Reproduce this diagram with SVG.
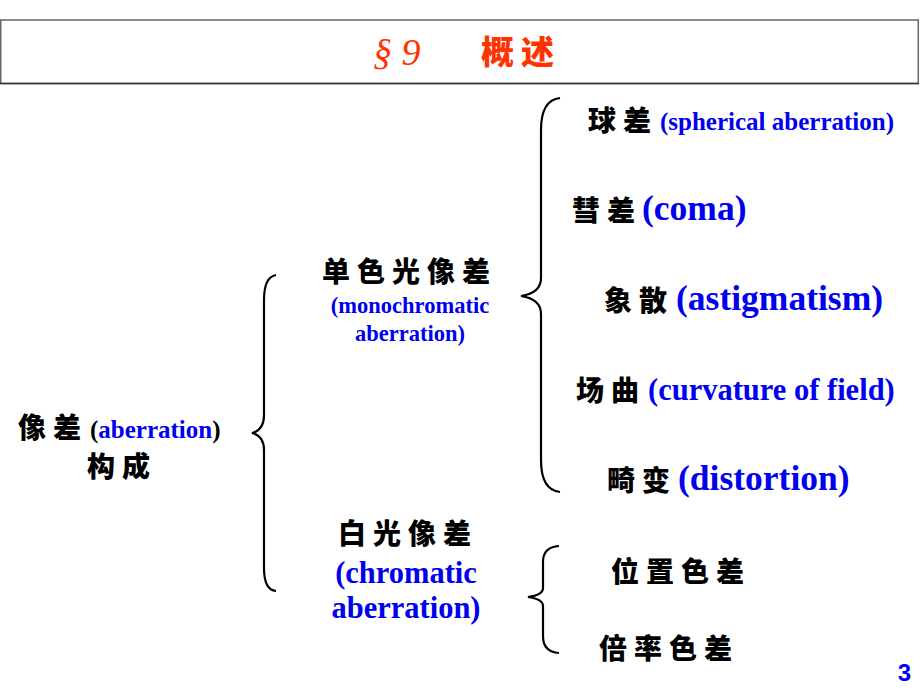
<svg xmlns="http://www.w3.org/2000/svg" width="920" height="690" viewBox="0 0 920 690">
<style>
.cn{font-family:"Noto Sans CJK SC","Noto Sans CJK JP",sans-serif;font-weight:900;fill:#000;font-size:28px;letter-spacing:7px}
.en{font-family:"Liberation Serif",serif;font-weight:bold;fill:#0000EE}
.br{fill:none;stroke:#000;stroke-width:2.2}
</style>
<rect width="920" height="690" fill="#fff"/>
<g id="title">
<rect x="0.75" y="20" width="917.5" height="63.5" fill="#fff" stroke="#666" stroke-width="1.5"/>
<line x1="0" y1="83.5" x2="919" y2="83.5" stroke="#333" stroke-width="1.5"/>
<text x="373" y="65" font-family="Liberation Serif,serif" font-style="italic" font-size="38" fill="#FF3300">§ 9</text>
<text x="481" y="64" font-family="Noto Sans CJK SC,sans-serif" font-weight="900" font-size="33" letter-spacing="7" fill="#FF3300">概述</text>
</g>
<g id="connectors">
<path class="br" d="M276,275 Q264,277 264,300 L264,415 Q264,430 252,433 Q264,436 264,450 L264,568 Q264,590 276,591"/>
<path class="br" d="M560,98 Q541,100 541,130 L541,278 Q541,293 521,296 Q541,299 541,314 L541,460 Q541,490 560,492"/>
<path class="br" d="M559,546 Q543,547 543,562 L543,588 Q543,595 528,597 Q543,599 543,606 L543,636 Q543,652 559,653"/>
</g>
<g id="root">
<text x="18" y="438" class="cn" letter-spacing="9">像差</text>
<text x="90" y="438" class="en" font-size="25"><tspan fill="#000">(</tspan><tspan>aberration</tspan><tspan fill="#000">)</tspan></text>
<text x="87" y="477" class="cn">构成</text>
</g>
<g id="mono">
<text x="322" y="282" class="cn">单色光像差</text>
<text x="410" y="313" class="en" font-size="22.5" text-anchor="middle">(monochromatic</text>
<text x="410" y="341" class="en" font-size="22.5" text-anchor="middle">aberration)</text>
</g>
<g id="chroma">
<text x="338" y="544" class="cn">白光像差</text>
<text x="406" y="583" class="en" font-size="30.5" text-anchor="middle">(chromatic</text>
<text x="406" y="618" class="en" font-size="30.5" text-anchor="middle">aberration)</text>
</g>
<g id="spherical"><text x="588" y="131" class="cn">球差</text><text x="660" y="130" class="en" font-size="25">(spherical aberration)</text></g>
<g id="coma"><text x="572" y="221" class="cn">彗差</text><text x="642" y="220" class="en" font-size="35.5">(coma)</text></g>
<g id="astig"><text x="604" y="311" class="cn">象散</text><text x="676" y="310" class="en" font-size="35.5">(astigmatism)</text></g>
<g id="curv"><text x="576" y="401" class="cn">场曲</text><text x="648" y="400" class="en" font-size="30.5">(curvature of field)</text></g>
<g id="dist"><text x="607" y="491" class="cn">畸变</text><text x="678" y="490" class="en" font-size="35.5">(distortion)</text></g>
<g id="pos"><text x="611" y="582" class="cn">位置色差</text></g>
<g id="mag"><text x="599" y="659" class="cn">倍率色差</text></g>
<g id="page"><text x="911" y="681" font-family="Liberation Sans,sans-serif" font-weight="bold" font-size="24" fill="#0000EE" text-anchor="end">3</text></g>
</svg>
